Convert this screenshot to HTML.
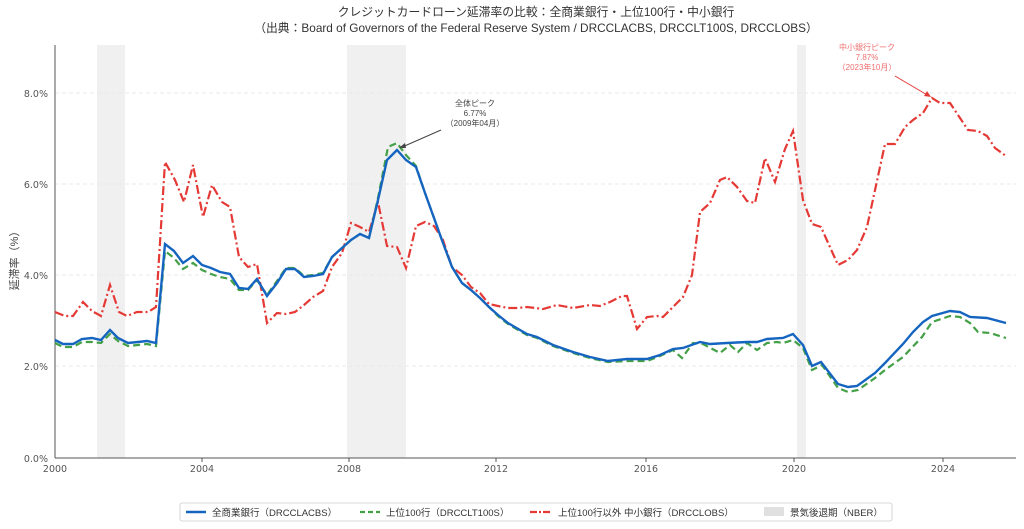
<!DOCTYPE html>
<html><head><meta charset="utf-8"><style>
body{margin:0;background:#fff;}
svg{display:block;font-family:"Liberation Sans","Noto Sans CJK JP",sans-serif;}
</style></head><body>
<svg width="1024" height="529" viewBox="0 0 1024 529">
<text x="536" y="16" font-size="11.8" text-anchor="middle" fill="#333">クレジットカードローン延滞率の比較：全商業銀行・上位100行・中小銀行</text>
<text x="536" y="32" font-size="11.8" text-anchor="middle" fill="#333">（出典：Board of Governors of the Federal Reserve System / DRCCLACBS, DRCCLT100S, DRCCLOBS）</text>
<rect x="97" y="45" width="28" height="413" fill="#f0f0f0"/>
<rect x="347" y="45" width="59" height="413" fill="#f0f0f0"/>
<rect x="797" y="45" width="9" height="413" fill="#f0f0f0"/>
<g stroke="#e4e4e4" stroke-dasharray="4,3" stroke-width="0.8">
<line x1="55" x2="1016" y1="93" y2="93"/><line x1="55" x2="1016" y1="184" y2="184"/>
<line x1="55" x2="1016" y1="275" y2="275"/><line x1="55" x2="1016" y1="366" y2="366"/>
</g>
<line x1="55" y1="45" x2="55" y2="458" stroke="#555" stroke-width="1"/>
<line x1="55" y1="458" x2="1016" y2="458" stroke="#555" stroke-width="1"/>
<g font-size="9.5" fill="#555" text-anchor="end" font-family="DejaVu Sans, sans-serif">
<text x="48" y="97">8.0%</text><text x="48" y="188">6.0%</text><text x="48" y="279">4.0%</text><text x="48" y="370">2.0%</text><text x="48" y="462">0.0%</text>
</g>
<g font-size="9.5" fill="#555" text-anchor="middle" font-family="DejaVu Sans, sans-serif">
<text x="55" y="472">2000</text><text x="202" y="472">2004</text><text x="349" y="472">2008</text><text x="496" y="472">2012</text><text x="646" y="472">2016</text><text x="794" y="472">2020</text><text x="943" y="472">2024</text>
</g>
<g stroke="#555"><line x1="202" y1="458" x2="202" y2="462"/><line x1="349" y1="458" x2="349" y2="462"/><line x1="496" y1="458" x2="496" y2="462"/><line x1="646" y1="458" x2="646" y2="462"/><line x1="794" y1="458" x2="794" y2="462"/><line x1="943" y1="458" x2="943" y2="462"/></g>
<text x="18" y="258" font-size="11" fill="#444" text-anchor="middle" transform="rotate(-90 18 258)">延滞率（%）</text>

<polyline fill="none" stroke="#e53935" stroke-width="2.2" stroke-dasharray="9,3,2,3" points="55,312 65,316 73,316 83,302 92,311 101,316 110,285 119,312 127,316 137,312 148,312 156,307 165,162 175,180 184,202 193,165 203,217 212,185 222,202 230,207 239,257 248,267 257,264 267,323 277,313 286,314 295,312 304,305 313,297 323,291 332,267 342,253 351,223 360,227 369,232 378,202 387,246 397,247 406,268 416,226 425,222 434,226 443,240 452,267 462,275 471,287 480,293 489,304 498,306 508,308 517,308 527,307 543,309 557,305 573,308 590,305 600,306 610,302 622,296 627,296 637,329 647,317 657,316 663,317 673,307 683,297 692,275 700,212 710,203 720,180 727,177 737,187 747,201 755,203 765,158 775,182 785,149 793,131 803,200 812,224 821,227 838,265 848,260 857,250 867,227 885,144 895,144 905,127 913,120 923,113 932,98 940,103 950,103 960,118 968,130 978,131 987,136 995,148 1006,156"/>
<polyline fill="none" stroke="#43a047" stroke-width="2.2" stroke-dasharray="7,4" points="55,343 63,347 73,347 82,342 92,342 101,343 110,334 118,341 128,346 138,345 147,344 156,346 165,251 174,258 183,269 193,263 202,270 211,274 220,277 230,279 239,290 248,290 257,280 267,295 277,281 286,268 295,268 304,276 313,275 323,273 332,257 342,248 351,240 360,234 369,238 378,198 388,147 397,143 406,155 416,166 425,193 434,218 443,243 452,267 462,283 471,290 480,298 489,307 498,316 508,324 520,331 527,335 537,338 553,346 573,353 590,358 608,362 627,361 647,361 660,356 673,350 682,358 693,343 703,344 720,353 730,345 738,352 747,343 757,350 767,343 777,342 783,343 793,340 803,348 812,370 822,365 838,388 848,392 858,390 875,378 885,370 903,357 922,337 932,322 950,316 960,317 970,323 978,332 990,333 1006,338"/>
<polyline fill="none" stroke="#1565c0" stroke-width="2.4" points="55,340 63,344 73,344 82,339 92,338 101,340 110,330 118,338 128,343 138,342 147,341 156,343 165,244 174,251 183,263 193,256 202,265 211,268 220,272 230,274 239,288 248,289 257,279 267,296 277,283 286,269 295,269 304,277 313,276 323,274 332,257 342,248 351,240 360,234 369,238 378,200 387,160 397,150 406,160 416,167 425,193 434,218 443,243 452,267 462,283 471,290 480,298 489,307 498,315 508,323 520,330 527,334 537,337 553,345 573,352 590,357 608,361 627,359 647,359 660,355 673,349 683,348 700,342 710,344 727,343 747,342 757,342 767,339 783,338 793,334 803,345 812,366 821,362 838,384 848,387 857,386 875,373 885,363 903,344 913,332 923,322 932,316 950,311 960,312 970,317 987,318 1006,323"/>

<line x1="441" y1="130" x2="400" y2="148" stroke="#444" stroke-width="1"/>
<polygon points="399,148 405,143 406,148" fill="#444"/>
<g font-size="8" fill="#444" text-anchor="middle"><text x="475" y="106">全体ピーク</text><text x="475" y="116">6.77%</text><text x="475" y="126">（2009年04月）</text></g>
<line x1="895" y1="76" x2="929" y2="96" stroke="#e53935" stroke-width="1"/>
<polygon points="931,97 924,96 927,91" fill="#e53935"/>
<g font-size="8" fill="#f07070" text-anchor="middle"><text x="867" y="50">中小銀行ピーク</text><text x="867" y="60">7.87%</text><text x="867" y="70">（2023年10月）</text></g>

<rect x="180" y="503" width="712" height="18" fill="#fff" stroke="#ccc" stroke-width="0.8" rx="2"/>
<g font-size="9.5" fill="#333">
<line x1="186" y1="512" x2="206" y2="512" stroke="#1565c0" stroke-width="2.4"/><text x="212" y="516">全商業銀行（DRCCLACBS）</text>
<line x1="360" y1="512" x2="380" y2="512" stroke="#43a047" stroke-width="2.2" stroke-dasharray="5,3"/><text x="386" y="516">上位100行（DRCCLT100S）</text>
<line x1="530" y1="512" x2="552" y2="512" stroke="#e53935" stroke-width="2.2" stroke-dasharray="7,2,2,2"/><text x="558" y="516">上位100行以外 中小銀行（DRCCLOBS）</text>
<rect x="764" y="507" width="20" height="9" fill="#e0e0e0"/><text x="790" y="516">景気後退期（NBER）</text>
</g>
</svg>
</body></html>
